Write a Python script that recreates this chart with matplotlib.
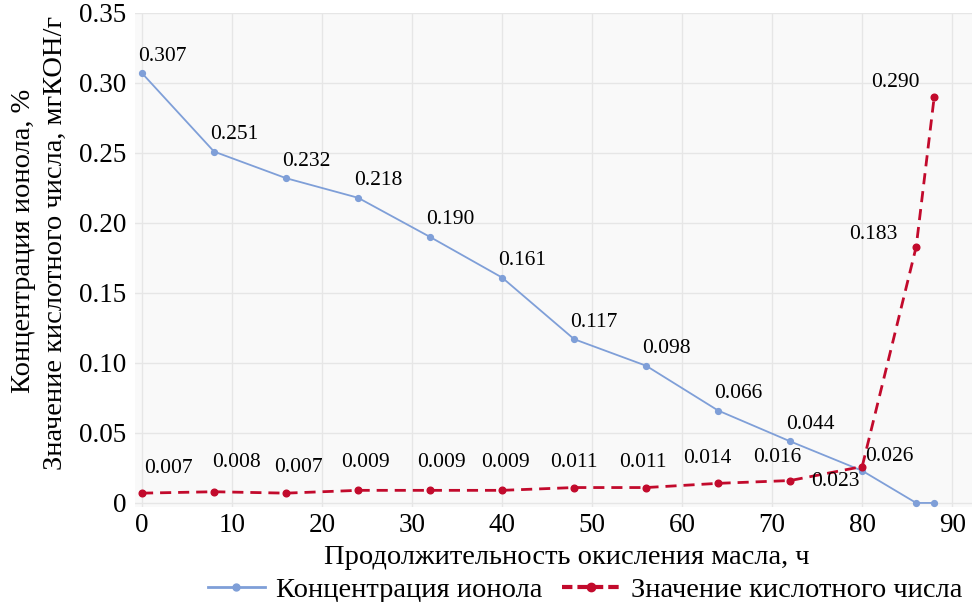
import matplotlib
matplotlib.use("Agg")
import matplotlib.pyplot as plt
from matplotlib.lines import Line2D

plt.rcParams['font.family'] = ['Liberation Serif', 'DejaVu Serif']

hours = [0, 8, 16, 24, 32, 40, 48, 56, 64, 72, 80, 86, 88]
ionol = [0.307, 0.251, 0.232, 0.218, 0.190, 0.161, 0.117, 0.098, 0.066, 0.044, 0.023, 0.0, 0.0]
acid = [0.007, 0.008, 0.007, 0.009, 0.009, 0.009, 0.011, 0.011, 0.014, 0.016, 0.026, 0.183, 0.290]
xticks = [0, 10, 20, 30, 40, 50, 60, 70, 80, 90]
yticks = [0, 0.05, 0.10, 0.15, 0.20, 0.25, 0.30, 0.35]
ytick_labels = ['0', '0.05', '0.10', '0.15', '0.20', '0.25', '0.30', '0.35']

xlabel = 'Продолжительность окисления масла, ч'
ylabel1 = 'Концентрация ионола, %'
ylabel2 = 'Значение кислотного числа, мгКОН/г'
name_ionol = 'Концентрация ионола'
name_acid = 'Значение кислотного числа'

# label placement (pixel offsets, alignment)
ionol_lbl = [(-4, 17, 'left')] * 10 + [(-3, -11, 'right'), None, None]
acid_lbl = [(26, 25, 'center'), (22, 29, 'center'), (12, 26, 'center'), (7, 28, 'center'),
            (11, 28, 'center'), (3, 28, 'center'), (0, 25, 'center'), (-3, 25, 'center'),
            (-11, 25, 'center'), (-13, 23, 'center'), (3, 10, 'left'), (-19, 12, 'right'),
            (-15, 14, 'right')]

BLUE = '#7f9fd8'
RED = '#c20a2c'
PX = 0.72

fig = plt.figure(figsize=(9.72, 6.02), dpi=100)
ax = fig.add_axes([135/972, (602-507)/602, 1 - 135/972, 494/602])
ax.set_facecolor('#f9f9f9')
ax.set_xlim(-0.78, 92.2)
ax.set_ylim(-0.0029, 0.35)
for s in ax.spines.values():
    s.set_visible(False)
ax.set_xticks(xticks)
ax.set_xticklabels([str(t) for t in xticks])
ax.set_yticks(yticks)
ax.set_yticklabels(ytick_labels)
ax.tick_params(length=0, labelsize=19.5, pad=6)
ax.tick_params(axis='x', pad=4)
ax.grid(True, color='#e6e6e6', linewidth=1)
ax.set_axisbelow(True)

ax.plot(hours, ionol, color=BLUE, linewidth=1.3, marker='o', markersize=4.2, zorder=3)
ax.plot(hours, acid, color=RED, linewidth=2.0, linestyle=(0, (4, 2.5)), marker='o',
        markersize=4.8, zorder=4)

for x, v, l in zip(hours, ionol, ionol_lbl):
    if l is None:
        continue
    ax.annotate(f'{v:.3f}', (x, v), xytext=(l[0]*PX, l[1]*PX), textcoords='offset points',
                ha=l[2], va='center', fontsize=15.5, zorder=5)
for x, v, l in zip(hours, acid, acid_lbl):
    ax.annotate(f'{v:.3f}', (x, v), xytext=(l[0]*PX, l[1]*PX), textcoords='offset points',
                ha=l[2], va='center', fontsize=15.5, zorder=5)

fig.text(567/972, 1 - 557/602, xlabel, ha='center', va='center', fontsize=20.5)
fig.text(24/972, 1 - 241/602, ylabel1, ha='center', va='center', rotation=90, fontsize=20.5)
fig.text(55/972, 1 - 243/602, ylabel2, ha='center', va='center', rotation=90, fontsize=20.5)

handles = [Line2D([], [], color=BLUE, linewidth=2, marker='o', markersize=5),
           Line2D([], [], color=RED, linewidth=3, linestyle=(0, (2.5, 1.2)), marker='o', markersize=6)]
fig.legend(handles, [name_ionol, name_acid], loc='center', bbox_to_anchor=(585/972, 1 - 590/602),
           ncol=2, frameon=False, fontsize=20.5, handlelength=2.0, handletextpad=0.4,
           columnspacing=0.7, borderaxespad=0)

fig.savefig('out.png', dpi=100)
